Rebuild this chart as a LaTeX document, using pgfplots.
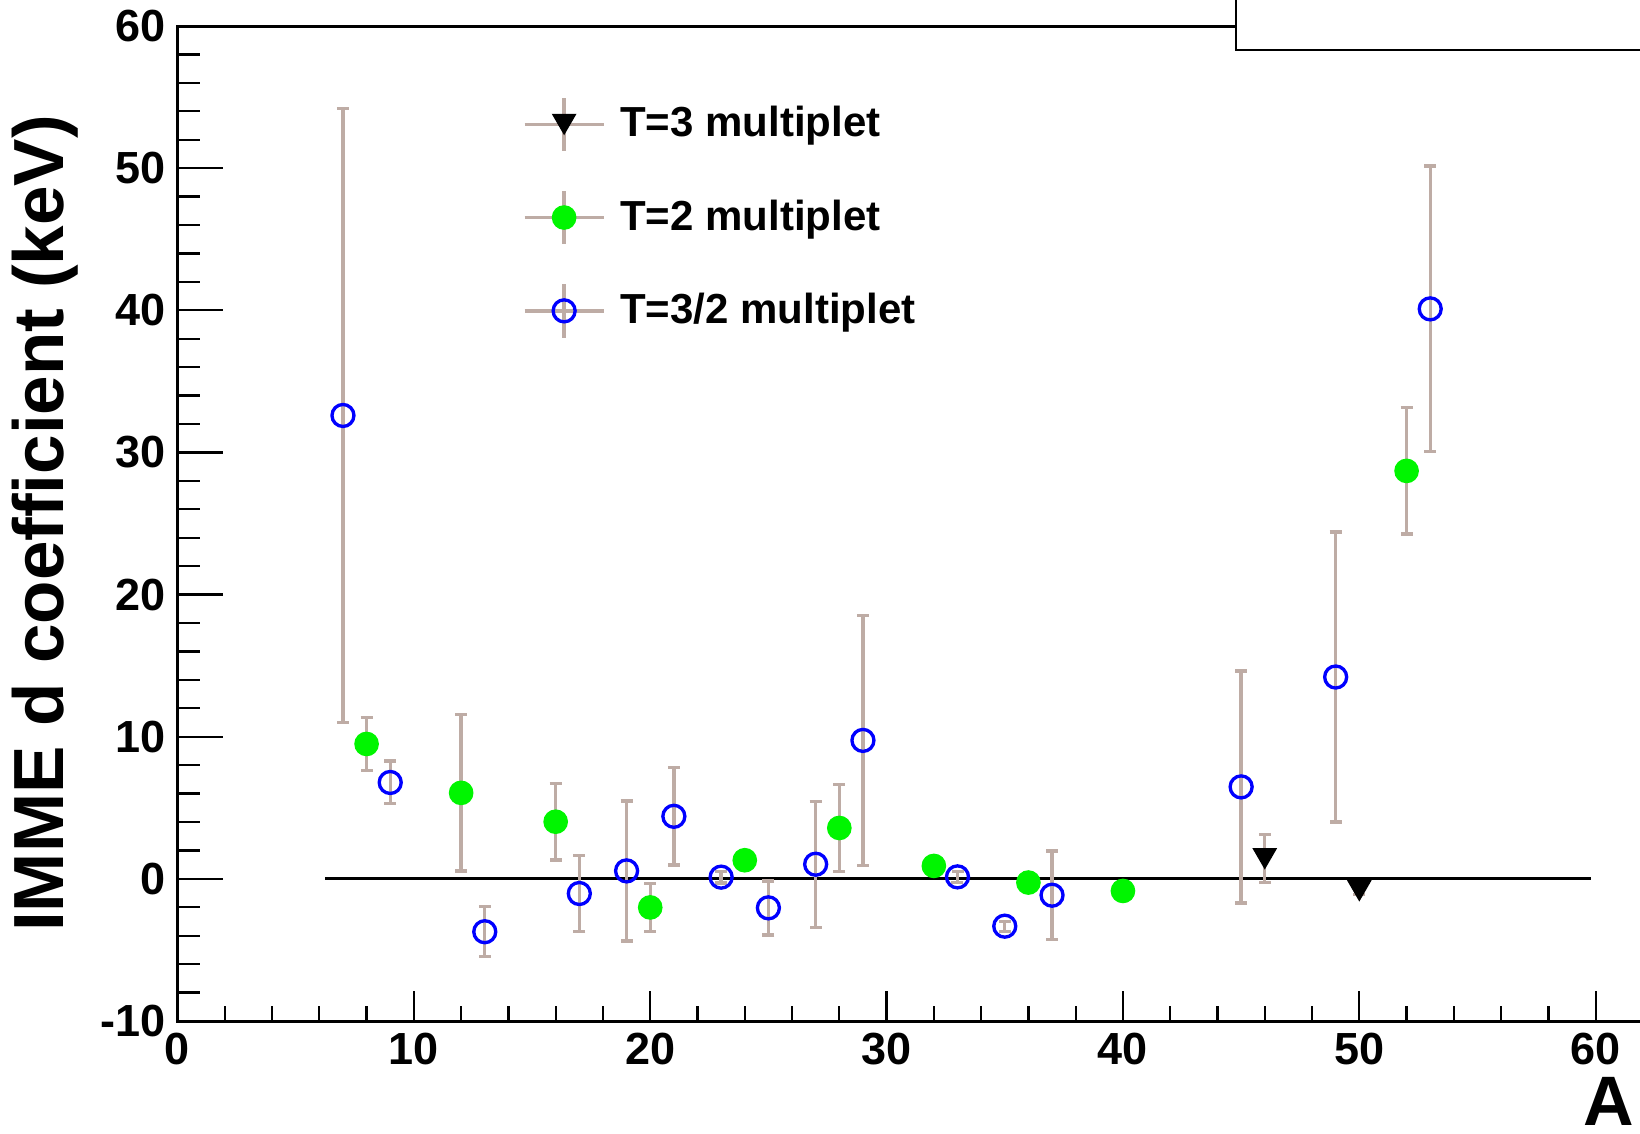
\documentclass[border=0pt]{standalone}
\usepackage{pgfplots}
\pgfplotsset{compat=1.18}
\usepackage{fontspec}
\setmainfont{Liberation Sans}
\definecolor{errcol}{RGB}{190,172,165}
\definecolor{mygreen}{RGB}{0,245,0}
\definecolor{myblue}{RGB}{0,0,255}
\begin{document}
\begin{tikzpicture}[x=1pt,y=1pt]
\pgfplotsset{
  common/.style={
    scale only axis, width=441.75pt, height=298.5pt,
    xmin=0, xmax=62.30, ymin=-10, ymax=60,
    at={(53.25pt,33.6pt)}, anchor=south west,
    axis line style={line width=0.9pt},
    /pgf/number format/assume math mode=true,
    tick style={line width=0.7pt, black},
    tick pos=left, tick align=inside,
  },
  errleg/.style={legend image code/.code={
    \draw[errcol, line width=1pt] (0pt,0pt) -- (23.7pt,0pt);
    \draw[errcol, line width=1pt] (11.85pt,-8pt) -- (11.85pt,8pt);
    \draw[##1] plot coordinates {(11.85pt,0pt)};
  }},
  ebars/.style={error bars/.cd, y dir=both, y explicit,
    error bar style={color=errcol, line width=1pt},
    error mark options={color=errcol, line width=1pt, mark size=1.8pt, rotate=90},
    /pgfplots/.cd},
}
\begin{axis}[common,
  xtick=\empty,
  ytick={-10,0,...,60}, minor y tick num=4,
  major tick length=13.5pt, minor tick length=6.8pt,
  yticklabel style={font=\fontsize{13.5}{16}\selectfont\bfseries, anchor=east, inner sep=0pt, xshift=-3.3pt},
  legend style={at={(axis description cs:0.2346,0.9298)}, anchor=north west, draw=none, fill=none,
    inner sep=0pt, outer sep=0pt,
    nodes={inner sep=0pt, outer sep=0pt, font=\fontsize{12.6}{15}\selectfont\bfseries},
    row sep=11pt, /tikz/every odd column/.append style={column sep=4.5pt}, cells={anchor=west}},
]
\addplot[black, line width=0.9pt, forget plot] coordinates {(6.25,0) (59.8,0)};
% T=3
\addplot[only marks, black, mark=triangle*, mark size=3.9pt, mark options={yshift=0.98pt, rotate=180}, errleg, ebars]
  coordinates {(46,1.43) +- (0,1.68) (50,-0.82) +- (0,0.3)};
\addlegendentry{T=3 multiplet}
% T=2
\addplot[only marks, mygreen, mark=*, mark size=3.5pt, errleg, ebars]
  coordinates {
  (8,9.49) +- (0,1.85)
  (12,6.05) +- (0,5.5)
  (16,4.02) +- (0,2.7)
  (20,-2.01) +- (0,1.68)
  (24,1.31) +- (0,0.5)
  (28,3.58) +- (0,3.04)
  (32,0.91) +- (0,0.5)
  (36,-0.26) +- (0,0.5)
  (40,-0.85) +- (0,0.5)
  (52,28.7) +- (0,4.45)
  };
\addlegendentry{T=2 multiplet}
% T=3/2
\addplot[only marks, myblue, mark=o, mark size=3.3pt, mark options={line width=1pt}, errleg, ebars]
  coordinates {
  (7,32.6) +- (0,21.6)
  (9,6.78) +- (0,1.5)
  (13,-3.72) +- (0,1.76)
  (17,-1.03) +- (0,2.66)
  (19,0.56) +- (0,4.92)
  (21,4.40) +- (0,3.42)
  (23,0.12) +- (0,0.4)
  (25,-2.04) +- (0,1.9)
  (27,1.03) +- (0,4.43)
  (29,9.74) +- (0,8.8)
  (33,0.14) +- (0,0.4)
  (35,-3.33) +- (0,0.35)
  (37,-1.15) +- (0,3.1)
  (45,6.47) +- (0,8.16)
  (49,14.2) +- (0,10.2)
  (53,40.1) +- (0,10.05)
  };
\addlegendentry{T=3/2 multiplet}
\end{axis}
\begin{axis}[common,
  ytick=\empty,
  xtick={0,10,...,60}, minor x tick num=4,
  major tick length=9pt, minor tick length=4.4pt,
  xticklabel style={font=\fontsize{13.5}{16}\selectfont\bfseries, anchor=north, inner sep=0pt, yshift=-3.3pt},
]
\end{axis}
\draw[line width=0.6pt, fill=white] (370.8,324.9) rectangle (500,345);
\node[rotate=90, font=\fontsize{21.3}{25}\selectfont\bfseries, inner sep=0pt] at (13.6,182.85) {IMME d coefficient (keV)};
\node[anchor=base east, font=\fontsize{21}{25}\selectfont\bfseries, inner sep=0pt] at (490.4,2.2) {A};
\pgfresetboundingbox
\useasboundingbox (0,0) rectangle (492,339.9);
\end{tikzpicture}
\end{document}
